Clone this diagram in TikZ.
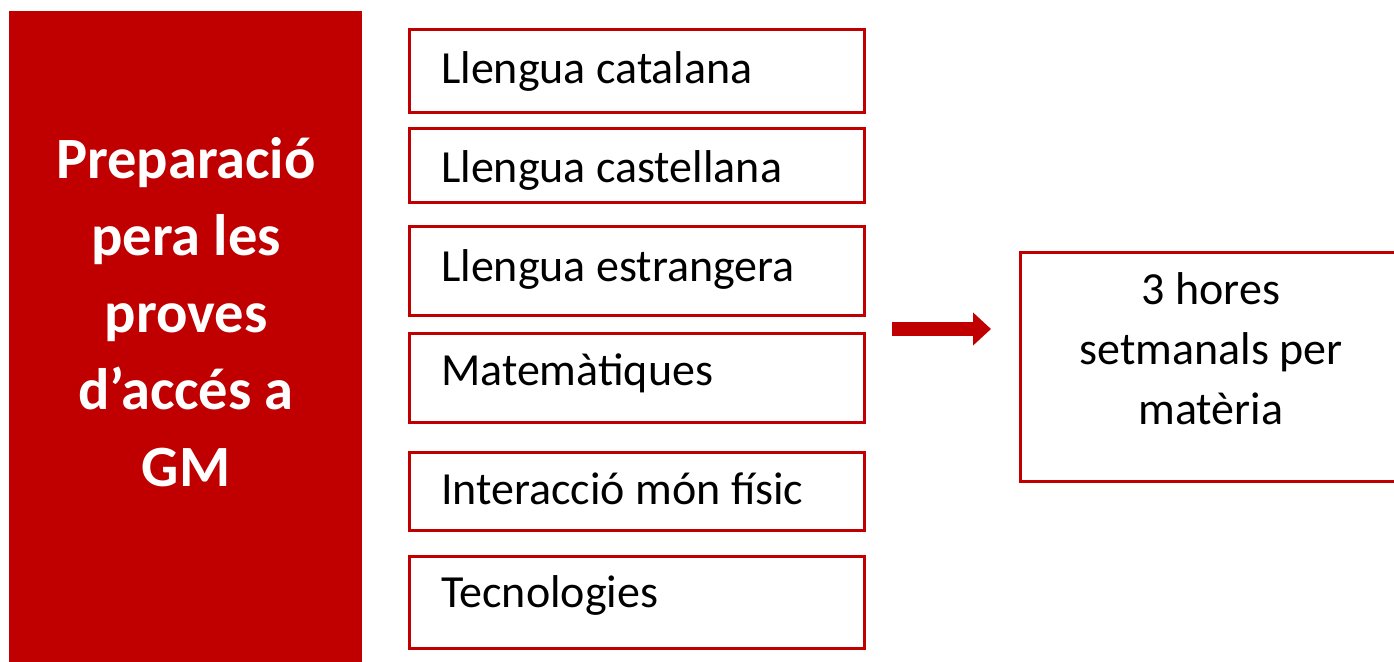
\documentclass[tikz,border=0pt]{standalone}
\usepackage{fontspec}
\setmainfont{Carlito}
\usetikzlibrary{arrows.meta}
\definecolor{dred}{HTML}{C00000}
\tikzset{
  subj/.style={draw=dred, line width=3pt, fill=white, rectangle, inner sep=0pt, anchor=north west},
  lbl/.style={font=\fontsize{46}{60}\selectfont, text=black, inner sep=0pt, anchor=base west},
  side/.style={fill=dred, rectangle, inner sep=0pt, anchor=north west, minimum width=353pt, minimum height=660pt},
  sidetxt/.style={font=\fontsize{58.5}{77}\selectfont\bfseries, text=white, align=center, inner sep=0pt},
  bigarrow/.style={draw=dred, line width=14pt, -{Triangle[length=18pt,width=32pt]}},
}
\begin{document}
\begin{tikzpicture}[x=1pt,y=-1pt]
\useasboundingbox (0,0) rectangle (1394,661);
\clip (0,0) rectangle (1394,661);
\fill[white] (0,0) rectangle (1394,661);
% left block
\node[side] (left) at (9,11) {};
\node[sidetxt, anchor=base] (lefttxt) at (186,486) {Preparació\\pera les\\proves\\d’accés a\\GM};
% subject boxes
\node[subj, minimum width=455pt, minimum height=82pt] (b1) at (407.5,28.5) {};
\node[subj, minimum width=455pt, minimum height=74pt] (b2) at (407.5,126.5) {};
\node[subj, minimum width=455pt, minimum height=89pt] (b3) at (407.5,224.5) {};
\node[subj, minimum width=455pt, minimum height=89pt] (b4) at (407.5,331.5) {};
\node[subj, minimum width=455pt, minimum height=78pt] (b5) at (407.5,450.5) {};
\node[subj, minimum width=455pt, minimum height=92pt] (b6) at (407.5,554.5) {};
\node[lbl] (t1) at (441,84) {Llengua catalana};
\node[lbl] (t2) at (441,182) {Llengua castellana};
\node[lbl] (t3) at (441,281) {Llengua estrangera};
\node[lbl] (t4) at (441,385) {Matemàtiques};
\node[lbl] (t5) at (441,504) {Interacció món físic};
\node[lbl] (t6) at (441,607) {Tecnologies};
% right box
\node[subj, minimum width=400pt, minimum height=229pt] (rb) at (1018.5,250.5) {};
\node[lbl, anchor=base, align=center] (rtxt) at (1211,424) {3 hores\\setmanals per\\matèria};
% arrow
\coordinate (as) at (892,329);
\coordinate (ae) at (991,329);
\draw[bigarrow] (as) -- (ae);
\end{tikzpicture}
\end{document}
